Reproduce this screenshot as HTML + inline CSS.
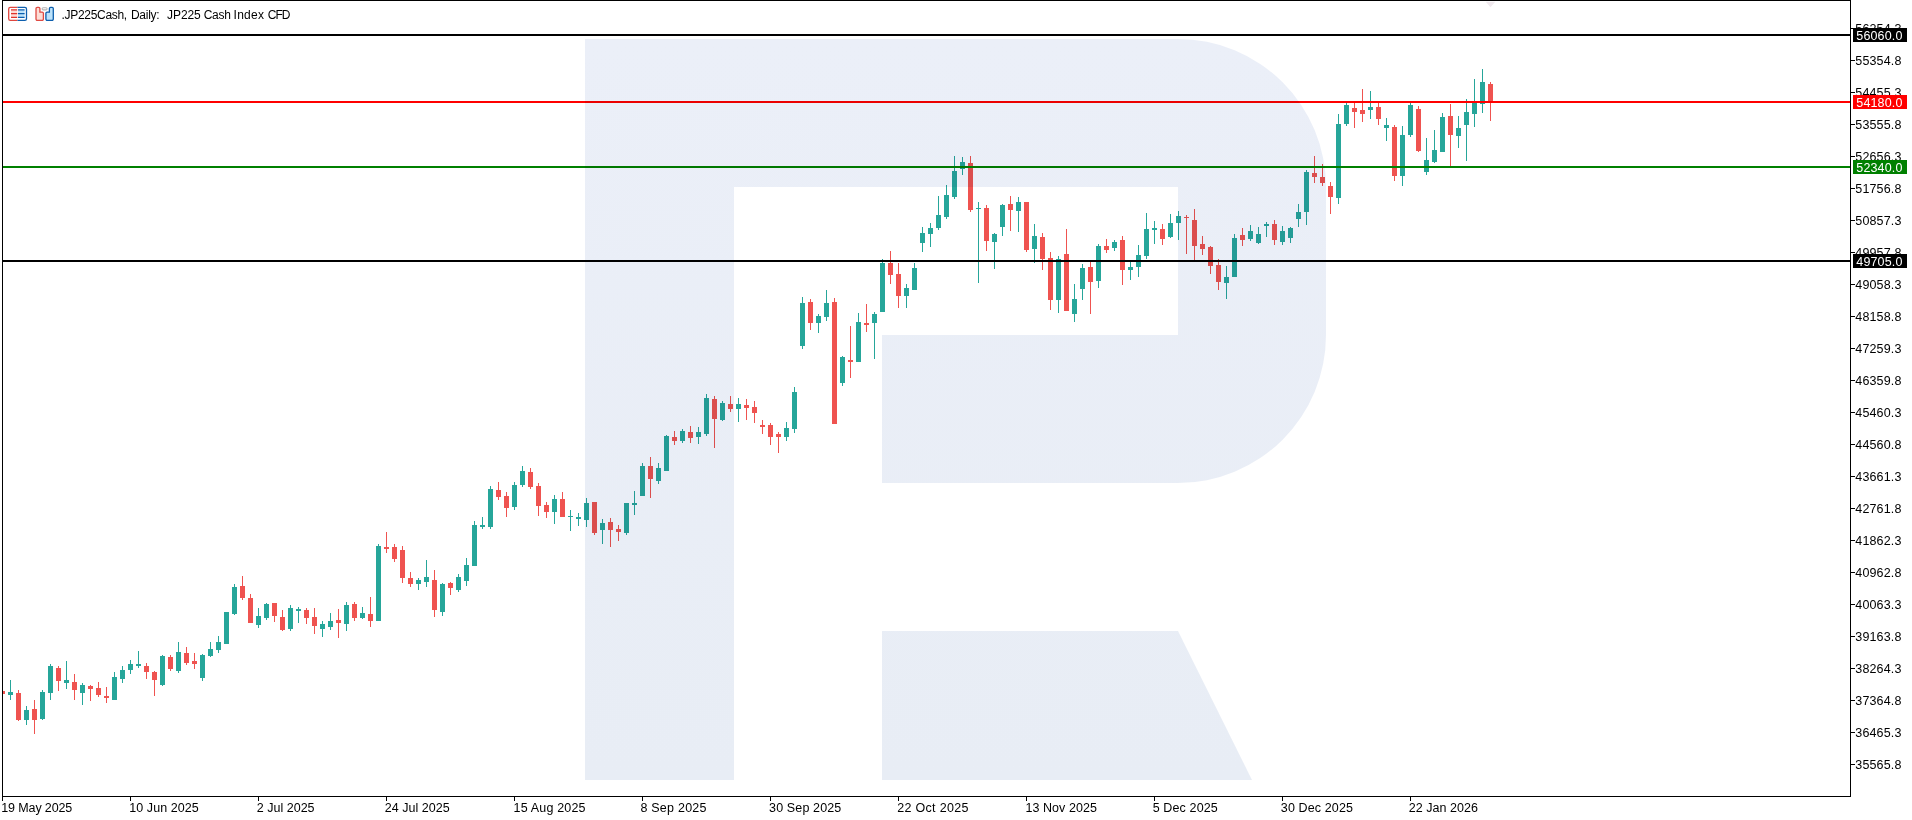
<!DOCTYPE html>
<html lang="en"><head><meta charset="utf-8"><title>.JP225Cash, Daily</title>
<style>
html,body{margin:0;padding:0;background:#fff;overflow:hidden}
body{width:1912px;height:820px;overflow:hidden;position:relative;font-family:"Liberation Sans",sans-serif;}
svg{position:absolute;left:0;top:0;display:block}
.t{position:absolute;white-space:pre;color:#000;font-size:12.5px;line-height:14px;height:14px;}
.pl{left:1855.3px;letter-spacing:0.15px}
.dl{top:801px;font-size:12.5px;letter-spacing:-0.1px}
.box{position:absolute;left:1853px;width:54px;height:14px;color:#fff;font-size:12.5px;line-height:14px;white-space:pre;letter-spacing:0.15px}
.box span{position:absolute;left:3.3px;top:1px}
#wm{mix-blend-mode:multiply}
</style></head><body>
<svg id="chart" width="1912" height="820" viewBox="0 0 1912 820" shape-rendering="crispEdges">
<g id="candles">
<g fill="#ef5350"><rect x="2" y="690" width="1" height="5"/><rect x="0" y="691" width="5" height="3"/></g>
<g fill="#26a69a"><rect x="10" y="680" width="1" height="20"/><rect x="8" y="692" width="5" height="3"/></g>
<g fill="#ef5350"><rect x="18" y="690" width="1" height="31"/><rect x="16" y="693" width="5" height="27"/></g>
<g fill="#26a69a"><rect x="26" y="706" width="1" height="19"/><rect x="24" y="710" width="5" height="10"/></g>
<g fill="#ef5350"><rect x="34" y="700" width="1" height="34"/><rect x="32" y="709" width="5" height="11"/></g>
<g fill="#26a69a"><rect x="42" y="690" width="1" height="30"/><rect x="40" y="692" width="5" height="27"/></g>
<g fill="#26a69a"><rect x="50" y="664" width="1" height="36"/><rect x="48" y="666" width="5" height="27"/></g>
<g fill="#ef5350"><rect x="58" y="666" width="1" height="25"/><rect x="56" y="668" width="5" height="13"/></g>
<g fill="#26a69a"><rect x="66" y="661" width="1" height="28"/><rect x="64" y="680" width="5" height="3"/></g>
<g fill="#ef5350"><rect x="74" y="674" width="1" height="26"/><rect x="72" y="682" width="5" height="8"/></g>
<g fill="#26a69a"><rect x="82" y="683" width="1" height="22"/><rect x="80" y="685" width="5" height="8"/></g>
<g fill="#ef5350"><rect x="90" y="685" width="1" height="16"/><rect x="88" y="686" width="5" height="3"/></g>
<g fill="#ef5350"><rect x="98" y="682" width="1" height="15"/><rect x="96" y="688" width="5" height="7"/></g>
<g fill="#ef5350"><rect x="106" y="687" width="1" height="16"/><rect x="104" y="696" width="5" height="2"/></g>
<g fill="#26a69a"><rect x="114" y="672" width="1" height="28"/><rect x="112" y="677" width="5" height="23"/></g>
<g fill="#26a69a"><rect x="122" y="666" width="1" height="17"/><rect x="120" y="670" width="5" height="9"/></g>
<g fill="#26a69a"><rect x="130" y="660" width="1" height="14"/><rect x="128" y="664" width="5" height="6"/></g>
<g fill="#26a69a"><rect x="138" y="651" width="1" height="17"/><rect x="136" y="664" width="5" height="2"/></g>
<g fill="#ef5350"><rect x="146" y="663" width="1" height="16"/><rect x="144" y="666" width="5" height="6"/></g>
<g fill="#ef5350"><rect x="154" y="671" width="1" height="25"/><rect x="152" y="672" width="5" height="8"/></g>
<g fill="#26a69a"><rect x="162" y="655" width="1" height="31"/><rect x="160" y="656" width="5" height="29"/></g>
<g fill="#ef5350"><rect x="170" y="655" width="1" height="16"/><rect x="168" y="657" width="5" height="12"/></g>
<g fill="#26a69a"><rect x="178" y="642" width="1" height="31"/><rect x="176" y="652" width="5" height="19"/></g>
<g fill="#ef5350"><rect x="186" y="647" width="1" height="18"/><rect x="184" y="653" width="5" height="10"/></g>
<g fill="#ef5350"><rect x="194" y="653" width="1" height="16"/><rect x="192" y="661" width="5" height="3"/></g>
<g fill="#26a69a"><rect x="202" y="654" width="1" height="27"/><rect x="200" y="655" width="5" height="23"/></g>
<g fill="#26a69a"><rect x="210" y="642" width="1" height="15"/><rect x="208" y="649" width="5" height="7"/></g>
<g fill="#26a69a"><rect x="218" y="636" width="1" height="17"/><rect x="216" y="642" width="5" height="8"/></g>
<g fill="#26a69a"><rect x="226" y="612" width="1" height="32"/><rect x="224" y="612" width="5" height="32"/></g>
<g fill="#26a69a"><rect x="234" y="584" width="1" height="31"/><rect x="232" y="587" width="5" height="27"/></g>
<g fill="#ef5350"><rect x="242" y="576" width="1" height="24"/><rect x="240" y="586" width="5" height="12"/></g>
<g fill="#ef5350"><rect x="250" y="594" width="1" height="29"/><rect x="248" y="598" width="5" height="25"/></g>
<g fill="#26a69a"><rect x="258" y="608" width="1" height="20"/><rect x="256" y="616" width="5" height="9"/></g>
<g fill="#26a69a"><rect x="266" y="603" width="1" height="17"/><rect x="264" y="604" width="5" height="14"/></g>
<g fill="#ef5350"><rect x="274" y="603" width="1" height="19"/><rect x="272" y="603" width="5" height="13"/></g>
<g fill="#ef5350"><rect x="282" y="610" width="1" height="21"/><rect x="280" y="617" width="5" height="13"/></g>
<g fill="#26a69a"><rect x="290" y="605" width="1" height="26"/><rect x="288" y="608" width="5" height="21"/></g>
<g fill="#26a69a"><rect x="298" y="607" width="1" height="16"/><rect x="296" y="609" width="5" height="2"/></g>
<g fill="#ef5350"><rect x="306" y="608" width="1" height="16"/><rect x="304" y="610" width="5" height="8"/></g>
<g fill="#ef5350"><rect x="314" y="608" width="1" height="26"/><rect x="312" y="617" width="5" height="9"/></g>
<g fill="#26a69a"><rect x="322" y="621" width="1" height="16"/><rect x="320" y="624" width="5" height="5"/></g>
<g fill="#26a69a"><rect x="330" y="613" width="1" height="17"/><rect x="328" y="621" width="5" height="6"/></g>
<g fill="#ef5350"><rect x="338" y="609" width="1" height="29"/><rect x="336" y="620" width="5" height="3"/></g>
<g fill="#26a69a"><rect x="346" y="602" width="1" height="29"/><rect x="344" y="605" width="5" height="19"/></g>
<g fill="#ef5350"><rect x="354" y="602" width="1" height="19"/><rect x="352" y="604" width="5" height="14"/></g>
<g fill="#26a69a"><rect x="362" y="607" width="1" height="12"/><rect x="360" y="613" width="5" height="5"/></g>
<g fill="#ef5350"><rect x="370" y="597" width="1" height="30"/><rect x="368" y="614" width="5" height="7"/></g>
<g fill="#26a69a"><rect x="378" y="544" width="1" height="77"/><rect x="376" y="546" width="5" height="75"/></g>
<g fill="#ef5350"><rect x="386" y="532" width="1" height="21"/><rect x="384" y="547" width="5" height="2"/></g>
<g fill="#ef5350"><rect x="394" y="544" width="1" height="18"/><rect x="392" y="547" width="5" height="12"/></g>
<g fill="#ef5350"><rect x="402" y="546" width="1" height="37"/><rect x="400" y="550" width="5" height="28"/></g>
<g fill="#ef5350"><rect x="410" y="572" width="1" height="15"/><rect x="408" y="578" width="5" height="6"/></g>
<g fill="#26a69a"><rect x="418" y="578" width="1" height="12"/><rect x="416" y="580" width="5" height="4"/></g>
<g fill="#26a69a"><rect x="426" y="560" width="1" height="27"/><rect x="424" y="577" width="5" height="5"/></g>
<g fill="#ef5350"><rect x="434" y="570" width="1" height="47"/><rect x="432" y="580" width="5" height="30"/></g>
<g fill="#26a69a"><rect x="442" y="583" width="1" height="33"/><rect x="440" y="584" width="5" height="28"/></g>
<g fill="#ef5350"><rect x="450" y="582" width="1" height="13"/><rect x="448" y="583" width="5" height="5"/></g>
<g fill="#26a69a"><rect x="458" y="574" width="1" height="18"/><rect x="456" y="577" width="5" height="13"/></g>
<g fill="#26a69a"><rect x="466" y="558" width="1" height="28"/><rect x="464" y="565" width="5" height="16"/></g>
<g fill="#26a69a"><rect x="474" y="521" width="1" height="45"/><rect x="472" y="525" width="5" height="41"/></g>
<g fill="#26a69a"><rect x="482" y="517" width="1" height="12"/><rect x="480" y="525" width="5" height="2"/></g>
<g fill="#26a69a"><rect x="490" y="486" width="1" height="43"/><rect x="488" y="489" width="5" height="38"/></g>
<g fill="#ef5350"><rect x="498" y="482" width="1" height="18"/><rect x="496" y="490" width="5" height="7"/></g>
<g fill="#ef5350"><rect x="506" y="492" width="1" height="25"/><rect x="504" y="496" width="5" height="12"/></g>
<g fill="#26a69a"><rect x="514" y="482" width="1" height="28"/><rect x="512" y="485" width="5" height="22"/></g>
<g fill="#26a69a"><rect x="522" y="466" width="1" height="21"/><rect x="520" y="471" width="5" height="14"/></g>
<g fill="#ef5350"><rect x="530" y="468" width="1" height="21"/><rect x="528" y="472" width="5" height="15"/></g>
<g fill="#ef5350"><rect x="538" y="483" width="1" height="33"/><rect x="536" y="486" width="5" height="20"/></g>
<g fill="#ef5350"><rect x="546" y="502" width="1" height="16"/><rect x="544" y="505" width="5" height="7"/></g>
<g fill="#26a69a"><rect x="554" y="495" width="1" height="29"/><rect x="552" y="499" width="5" height="13"/></g>
<g fill="#ef5350"><rect x="562" y="492" width="1" height="25"/><rect x="560" y="499" width="5" height="18"/></g>
<g fill="#26a69a"><rect x="570" y="510" width="1" height="21"/><rect x="568" y="516" width="5" height="1"/></g>
<g fill="#26a69a"><rect x="578" y="513" width="1" height="13"/><rect x="576" y="517" width="5" height="2"/></g>
<g fill="#26a69a"><rect x="586" y="498" width="1" height="29"/><rect x="584" y="503" width="5" height="17"/></g>
<g fill="#ef5350"><rect x="594" y="502" width="1" height="33"/><rect x="592" y="502" width="5" height="31"/></g>
<g fill="#26a69a"><rect x="602" y="519" width="1" height="25"/><rect x="600" y="523" width="5" height="7"/></g>
<g fill="#ef5350"><rect x="610" y="518" width="1" height="29"/><rect x="608" y="522" width="5" height="8"/></g>
<g fill="#ef5350"><rect x="618" y="525" width="1" height="16"/><rect x="616" y="529" width="5" height="3"/></g>
<g fill="#26a69a"><rect x="626" y="503" width="1" height="32"/><rect x="624" y="503" width="5" height="30"/></g>
<g fill="#26a69a"><rect x="634" y="491" width="1" height="24"/><rect x="632" y="503" width="5" height="2"/></g>
<g fill="#26a69a"><rect x="642" y="463" width="1" height="33"/><rect x="640" y="466" width="5" height="30"/></g>
<g fill="#ef5350"><rect x="650" y="457" width="1" height="41"/><rect x="648" y="466" width="5" height="13"/></g>
<g fill="#26a69a"><rect x="658" y="463" width="1" height="21"/><rect x="656" y="468" width="5" height="13"/></g>
<g fill="#26a69a"><rect x="666" y="435" width="1" height="36"/><rect x="664" y="436" width="5" height="35"/></g>
<g fill="#ef5350"><rect x="674" y="431" width="1" height="14"/><rect x="672" y="437" width="5" height="4"/></g>
<g fill="#26a69a"><rect x="682" y="429" width="1" height="14"/><rect x="680" y="431" width="5" height="10"/></g>
<g fill="#ef5350"><rect x="690" y="426" width="1" height="17"/><rect x="688" y="432" width="5" height="6"/></g>
<g fill="#26a69a"><rect x="698" y="427" width="1" height="17"/><rect x="696" y="432" width="5" height="5"/></g>
<g fill="#26a69a"><rect x="706" y="394" width="1" height="42"/><rect x="704" y="398" width="5" height="36"/></g>
<g fill="#ef5350"><rect x="714" y="396" width="1" height="52"/><rect x="712" y="399" width="5" height="20"/></g>
<g fill="#26a69a"><rect x="722" y="401" width="1" height="20"/><rect x="720" y="403" width="5" height="17"/></g>
<g fill="#ef5350"><rect x="730" y="396" width="1" height="16"/><rect x="728" y="404" width="5" height="5"/></g>
<g fill="#26a69a"><rect x="738" y="398" width="1" height="24"/><rect x="736" y="404" width="5" height="5"/></g>
<g fill="#ef5350"><rect x="746" y="399" width="1" height="21"/><rect x="744" y="405" width="5" height="3"/></g>
<g fill="#ef5350"><rect x="754" y="401" width="1" height="22"/><rect x="752" y="407" width="5" height="6"/></g>
<g fill="#ef5350"><rect x="762" y="420" width="1" height="14"/><rect x="760" y="425" width="5" height="2"/></g>
<g fill="#ef5350"><rect x="770" y="423" width="1" height="22"/><rect x="768" y="425" width="5" height="12"/></g>
<g fill="#ef5350"><rect x="778" y="432" width="1" height="21"/><rect x="776" y="434" width="5" height="3"/></g>
<g fill="#26a69a"><rect x="786" y="422" width="1" height="19"/><rect x="784" y="428" width="5" height="9"/></g>
<g fill="#26a69a"><rect x="794" y="387" width="1" height="46"/><rect x="792" y="392" width="5" height="37"/></g>
<g fill="#26a69a"><rect x="802" y="297" width="1" height="52"/><rect x="800" y="303" width="5" height="43"/></g>
<g fill="#ef5350"><rect x="810" y="299" width="1" height="31"/><rect x="808" y="302" width="5" height="21"/></g>
<g fill="#26a69a"><rect x="818" y="314" width="1" height="19"/><rect x="816" y="316" width="5" height="7"/></g>
<g fill="#26a69a"><rect x="826" y="290" width="1" height="31"/><rect x="824" y="303" width="5" height="14"/></g>
<g fill="#ef5350"><rect x="834" y="298" width="1" height="126"/><rect x="832" y="302" width="5" height="122"/></g>
<g fill="#26a69a"><rect x="842" y="356" width="1" height="30"/><rect x="840" y="357" width="5" height="26"/></g>
<g fill="#ef5350"><rect x="850" y="326" width="1" height="52"/><rect x="848" y="360" width="5" height="2"/></g>
<g fill="#26a69a"><rect x="858" y="313" width="1" height="49"/><rect x="856" y="322" width="5" height="40"/></g>
<g fill="#ef5350"><rect x="866" y="304" width="1" height="28"/><rect x="864" y="323" width="5" height="2"/></g>
<g fill="#26a69a"><rect x="874" y="312" width="1" height="47"/><rect x="872" y="314" width="5" height="9"/></g>
<g fill="#26a69a"><rect x="882" y="259" width="1" height="53"/><rect x="880" y="263" width="5" height="49"/></g>
<g fill="#ef5350"><rect x="890" y="251" width="1" height="33"/><rect x="888" y="263" width="5" height="12"/></g>
<g fill="#ef5350"><rect x="898" y="263" width="1" height="45"/><rect x="896" y="274" width="5" height="22"/></g>
<g fill="#26a69a"><rect x="906" y="284" width="1" height="24"/><rect x="904" y="288" width="5" height="8"/></g>
<g fill="#26a69a"><rect x="914" y="263" width="1" height="27"/><rect x="912" y="268" width="5" height="22"/></g>
<g fill="#26a69a"><rect x="922" y="227" width="1" height="25"/><rect x="920" y="233" width="5" height="10"/></g>
<g fill="#26a69a"><rect x="930" y="223" width="1" height="24"/><rect x="928" y="228" width="5" height="6"/></g>
<g fill="#26a69a"><rect x="938" y="196" width="1" height="34"/><rect x="936" y="215" width="5" height="13"/></g>
<g fill="#26a69a"><rect x="946" y="185" width="1" height="34"/><rect x="944" y="195" width="5" height="22"/></g>
<g fill="#26a69a"><rect x="954" y="156" width="1" height="43"/><rect x="952" y="171" width="5" height="26"/></g>
<g fill="#26a69a"><rect x="962" y="157" width="1" height="18"/><rect x="960" y="162" width="5" height="7"/></g>
<g fill="#ef5350"><rect x="970" y="156" width="1" height="56"/><rect x="968" y="163" width="5" height="47"/></g>
<g fill="#26a69a"><rect x="978" y="202" width="1" height="81"/><rect x="976" y="208" width="5" height="1"/></g>
<g fill="#ef5350"><rect x="986" y="205" width="1" height="46"/><rect x="984" y="208" width="5" height="33"/></g>
<g fill="#26a69a"><rect x="994" y="233" width="1" height="36"/><rect x="992" y="234" width="5" height="8"/></g>
<g fill="#26a69a"><rect x="1002" y="204" width="1" height="32"/><rect x="1000" y="205" width="5" height="22"/></g>
<g fill="#ef5350"><rect x="1010" y="196" width="1" height="35"/><rect x="1008" y="204" width="5" height="6"/></g>
<g fill="#26a69a"><rect x="1018" y="197" width="1" height="35"/><rect x="1016" y="202" width="5" height="9"/></g>
<g fill="#ef5350"><rect x="1026" y="202" width="1" height="50"/><rect x="1024" y="202" width="5" height="48"/></g>
<g fill="#26a69a"><rect x="1034" y="224" width="1" height="39"/><rect x="1032" y="236" width="5" height="13"/></g>
<g fill="#ef5350"><rect x="1042" y="233" width="1" height="37"/><rect x="1040" y="237" width="5" height="22"/></g>
<g fill="#ef5350"><rect x="1050" y="252" width="1" height="58"/><rect x="1048" y="258" width="5" height="42"/></g>
<g fill="#26a69a"><rect x="1058" y="256" width="1" height="57"/><rect x="1056" y="259" width="5" height="41"/></g>
<g fill="#ef5350"><rect x="1066" y="229" width="1" height="82"/><rect x="1064" y="254" width="5" height="57"/></g>
<g fill="#26a69a"><rect x="1074" y="284" width="1" height="38"/><rect x="1072" y="299" width="5" height="15"/></g>
<g fill="#26a69a"><rect x="1082" y="264" width="1" height="36"/><rect x="1080" y="268" width="5" height="21"/></g>
<g fill="#ef5350"><rect x="1090" y="262" width="1" height="52"/><rect x="1088" y="267" width="5" height="15"/></g>
<g fill="#26a69a"><rect x="1098" y="244" width="1" height="44"/><rect x="1096" y="246" width="5" height="35"/></g>
<g fill="#ef5350"><rect x="1106" y="239" width="1" height="14"/><rect x="1104" y="246" width="5" height="4"/></g>
<g fill="#26a69a"><rect x="1114" y="240" width="1" height="11"/><rect x="1112" y="242" width="5" height="6"/></g>
<g fill="#ef5350"><rect x="1122" y="236" width="1" height="49"/><rect x="1120" y="240" width="5" height="30"/></g>
<g fill="#26a69a"><rect x="1130" y="262" width="1" height="18"/><rect x="1128" y="267" width="5" height="3"/></g>
<g fill="#26a69a"><rect x="1138" y="245" width="1" height="32"/><rect x="1136" y="255" width="5" height="12"/></g>
<g fill="#26a69a"><rect x="1146" y="213" width="1" height="46"/><rect x="1144" y="229" width="5" height="27"/></g>
<g fill="#26a69a"><rect x="1154" y="221" width="1" height="23"/><rect x="1152" y="228" width="5" height="2"/></g>
<g fill="#ef5350"><rect x="1162" y="224" width="1" height="21"/><rect x="1160" y="229" width="5" height="10"/></g>
<g fill="#26a69a"><rect x="1170" y="214" width="1" height="24"/><rect x="1168" y="223" width="5" height="14"/></g>
<g fill="#26a69a"><rect x="1178" y="211" width="1" height="29"/><rect x="1176" y="216" width="5" height="7"/></g>
<g fill="#ef5350"><rect x="1186" y="215" width="1" height="39"/><rect x="1184" y="217" width="5" height="1"/></g>
<g fill="#ef5350"><rect x="1194" y="209" width="1" height="51"/><rect x="1192" y="220" width="5" height="26"/></g>
<g fill="#ef5350"><rect x="1202" y="236" width="1" height="19"/><rect x="1200" y="244" width="5" height="5"/></g>
<g fill="#ef5350"><rect x="1210" y="246" width="1" height="28"/><rect x="1208" y="247" width="5" height="19"/></g>
<g fill="#ef5350"><rect x="1218" y="259" width="1" height="31"/><rect x="1216" y="265" width="5" height="17"/></g>
<g fill="#26a69a"><rect x="1226" y="266" width="1" height="33"/><rect x="1224" y="277" width="5" height="6"/></g>
<g fill="#26a69a"><rect x="1234" y="234" width="1" height="43"/><rect x="1232" y="238" width="5" height="39"/></g>
<g fill="#ef5350"><rect x="1242" y="228" width="1" height="18"/><rect x="1240" y="235" width="5" height="5"/></g>
<g fill="#26a69a"><rect x="1250" y="225" width="1" height="16"/><rect x="1248" y="231" width="5" height="8"/></g>
<g fill="#26a69a"><rect x="1258" y="227" width="1" height="17"/><rect x="1256" y="234" width="5" height="9"/></g>
<g fill="#26a69a"><rect x="1266" y="222" width="1" height="15"/><rect x="1264" y="224" width="5" height="2"/></g>
<g fill="#ef5350"><rect x="1274" y="220" width="1" height="25"/><rect x="1272" y="224" width="5" height="16"/></g>
<g fill="#26a69a"><rect x="1282" y="226" width="1" height="19"/><rect x="1280" y="231" width="5" height="11"/></g>
<g fill="#26a69a"><rect x="1290" y="227" width="1" height="16"/><rect x="1288" y="228" width="5" height="10"/></g>
<g fill="#26a69a"><rect x="1298" y="204" width="1" height="23"/><rect x="1296" y="212" width="5" height="7"/></g>
<g fill="#26a69a"><rect x="1306" y="170" width="1" height="55"/><rect x="1304" y="172" width="5" height="40"/></g>
<g fill="#ef5350"><rect x="1314" y="156" width="1" height="27"/><rect x="1312" y="173" width="5" height="4"/></g>
<g fill="#ef5350"><rect x="1322" y="164" width="1" height="22"/><rect x="1320" y="177" width="5" height="6"/></g>
<g fill="#ef5350"><rect x="1330" y="182" width="1" height="32"/><rect x="1328" y="186" width="5" height="11"/></g>
<g fill="#26a69a"><rect x="1338" y="114" width="1" height="90"/><rect x="1336" y="124" width="5" height="74"/></g>
<g fill="#26a69a"><rect x="1346" y="103" width="1" height="23"/><rect x="1344" y="105" width="5" height="19"/></g>
<g fill="#ef5350"><rect x="1354" y="103" width="1" height="25"/><rect x="1352" y="108" width="5" height="4"/></g>
<g fill="#ef5350"><rect x="1362" y="89" width="1" height="33"/><rect x="1360" y="110" width="5" height="4"/></g>
<g fill="#26a69a"><rect x="1370" y="91" width="1" height="28"/><rect x="1368" y="107" width="5" height="3"/></g>
<g fill="#ef5350"><rect x="1378" y="103" width="1" height="22"/><rect x="1376" y="107" width="5" height="12"/></g>
<g fill="#26a69a"><rect x="1386" y="118" width="1" height="23"/><rect x="1384" y="125" width="5" height="3"/></g>
<g fill="#ef5350"><rect x="1394" y="125" width="1" height="56"/><rect x="1392" y="127" width="5" height="49"/></g>
<g fill="#26a69a"><rect x="1402" y="126" width="1" height="60"/><rect x="1400" y="135" width="5" height="41"/></g>
<g fill="#26a69a"><rect x="1410" y="103" width="1" height="34"/><rect x="1408" y="105" width="5" height="30"/></g>
<g fill="#ef5350"><rect x="1418" y="106" width="1" height="46"/><rect x="1416" y="109" width="5" height="42"/></g>
<g fill="#26a69a"><rect x="1426" y="138" width="1" height="37"/><rect x="1424" y="160" width="5" height="12"/></g>
<g fill="#26a69a"><rect x="1434" y="130" width="1" height="33"/><rect x="1432" y="150" width="5" height="12"/></g>
<g fill="#26a69a"><rect x="1442" y="113" width="1" height="39"/><rect x="1440" y="117" width="5" height="35"/></g>
<g fill="#ef5350"><rect x="1450" y="104" width="1" height="62"/><rect x="1448" y="116" width="5" height="19"/></g>
<g fill="#26a69a"><rect x="1458" y="116" width="1" height="32"/><rect x="1456" y="128" width="5" height="8"/></g>
<g fill="#26a69a"><rect x="1466" y="99" width="1" height="62"/><rect x="1464" y="112" width="5" height="13"/></g>
<g fill="#26a69a"><rect x="1474" y="79" width="1" height="48"/><rect x="1472" y="102" width="5" height="12"/></g>
<g fill="#26a69a"><rect x="1482" y="69" width="1" height="44"/><rect x="1480" y="82" width="5" height="22"/></g>
<g fill="#ef5350"><rect x="1490" y="82" width="1" height="39"/><rect x="1488" y="84" width="5" height="17"/></g>
</g>
<rect x="0" y="0" width="2" height="820" fill="#fff"/>
<rect x="3" y="34" width="1847" height="2" fill="#000"/>
<rect x="3" y="101" width="1847" height="2" fill="#f00"/>
<rect x="3" y="166" width="1847" height="2" fill="#008000"/>
<rect x="3" y="260" width="1847" height="2" fill="#000"/>
</svg>
<svg id="wm" width="1912" height="820" viewBox="0 0 1912 820">
<defs><linearGradient id="wg" gradientUnits="userSpaceOnUse" x1="0" y1="39" x2="0" y2="780"><stop offset="0" stop-color="#ebeff8"/><stop offset="1" stop-color="#e8edf5"/></linearGradient></defs>
<path fill="url(#wg)" d="M585 39H1178A148 148 0 0 1 1326 187V335A148 148 0 0 1 1178 483H882V335H1178V187H734V780H585Z"/>
<path fill="url(#wg)" d="M882 631H1178L1252 780H882Z"/>
</svg>
<svg id="frame" width="1912" height="820" viewBox="0 0 1912 820" shape-rendering="crispEdges">
<polygon points="1485.700,1.800 1495.300,1.800 1490.500,7.200" fill="#f0e9ee" shape-rendering="auto"/>
<rect x="2" y="0" width="1849" height="1" fill="#000"/>
<rect x="2" y="0" width="1" height="797" fill="#000"/>
<rect x="2" y="796" width="1849" height="1" fill="#000"/>
<rect x="1850" y="0" width="1" height="797" fill="#000"/>
<rect x="1851" y="28" width="4" height="1" fill="#000"/>
<rect x="1851" y="60" width="4" height="1" fill="#000"/>
<rect x="1851" y="92" width="4" height="1" fill="#000"/>
<rect x="1851" y="124" width="4" height="1" fill="#000"/>
<rect x="1851" y="156" width="4" height="1" fill="#000"/>
<rect x="1851" y="188" width="4" height="1" fill="#000"/>
<rect x="1851" y="220" width="4" height="1" fill="#000"/>
<rect x="1851" y="252" width="4" height="1" fill="#000"/>
<rect x="1851" y="284" width="4" height="1" fill="#000"/>
<rect x="1851" y="316" width="4" height="1" fill="#000"/>
<rect x="1851" y="348" width="4" height="1" fill="#000"/>
<rect x="1851" y="380" width="4" height="1" fill="#000"/>
<rect x="1851" y="412" width="4" height="1" fill="#000"/>
<rect x="1851" y="444" width="4" height="1" fill="#000"/>
<rect x="1851" y="476" width="4" height="1" fill="#000"/>
<rect x="1851" y="508" width="4" height="1" fill="#000"/>
<rect x="1851" y="540" width="4" height="1" fill="#000"/>
<rect x="1851" y="572" width="4" height="1" fill="#000"/>
<rect x="1851" y="604" width="4" height="1" fill="#000"/>
<rect x="1851" y="636" width="4" height="1" fill="#000"/>
<rect x="1851" y="668" width="4" height="1" fill="#000"/>
<rect x="1851" y="700" width="4" height="1" fill="#000"/>
<rect x="1851" y="732" width="4" height="1" fill="#000"/>
<rect x="1851" y="764" width="4" height="1" fill="#000"/>
<rect x="2" y="797" width="1" height="4" fill="#000"/>
<rect x="130" y="797" width="1" height="4" fill="#000"/>
<rect x="258" y="797" width="1" height="4" fill="#000"/>
<rect x="386" y="797" width="1" height="4" fill="#000"/>
<rect x="514" y="797" width="1" height="4" fill="#000"/>
<rect x="642" y="797" width="1" height="4" fill="#000"/>
<rect x="770" y="797" width="1" height="4" fill="#000"/>
<rect x="898" y="797" width="1" height="4" fill="#000"/>
<rect x="1026" y="797" width="1" height="4" fill="#000"/>
<rect x="1154" y="797" width="1" height="4" fill="#000"/>
<rect x="1282" y="797" width="1" height="4" fill="#000"/>
<rect x="1410" y="797" width="1" height="4" fill="#000"/>
</svg>
<svg id="icons" width="60" height="26" viewBox="0 0 60 26" style="left:0;top:0">
<path d="M17.500 7.400H10.300a1.600 1.600 0 0 0 -1.600 1.600V18.800a1.600 1.600 0 0 0 1.600 1.600H17.500" fill="none" stroke="#e0463e" stroke-width="1.300"/>
<path d="M17.500 7.400H24.900a1.600 1.600 0 0 1 1.600 1.600V18.800a1.600 1.600 0 0 1 -1.600 1.600H17.500" fill="none" stroke="#0e5fae" stroke-width="1.300"/>
<rect x="11" y="9.500" width="6.200" height="8.300" fill="#fddcd6"/>
<rect x="18" y="9.500" width="6.600" height="8.300" fill="#bee3fa"/>
<g stroke="#e0332b" stroke-width="1.150"><path d="M11 9.900H17.200M11 13.650H17.200M11 17.400H17.200"/></g>
<g stroke="#0e5fae" stroke-width="1.150"><path d="M18 9.900H24.600M18 13.650H24.600M18 17.400H24.600"/></g>
<path d="M36 8.600a1.200 1.200 0 0 1 1.200-1.200h1.500a1.200 1.200 0 0 1 1.200 1.200v3.500h2.300a1.200 1.200 0 0 1 1.200 1.200v5.800a1.200 1.200 0 0 1 -1.200 1.200h-5a1.200 1.200 0 0 1 -1.200-1.200z" fill="#fdddd6" stroke="#df4a42" stroke-width="1.300"/>
<path d="M53.300 8.600a1.200 1.200 0 0 0 -1.200-1.200h-1.500a1.200 1.200 0 0 0 -1.200 1.200v3.500h-2.300a1.200 1.200 0 0 0 -1.200 1.200v5.800a1.200 1.200 0 0 0 1.200 1.200h5a1.200 1.200 0 0 0 1.200-1.200z" fill="#bde3fb" stroke="#0d5fad" stroke-width="1.300"/>
<rect x="42.100" y="7.700" width="5" height="2.200" rx="1.100" fill="#fff" stroke="#b4b4b4" stroke-width="1.100"/>
</svg>
<div id="title"><span class="t tw" style="left:61.50px;top:8px;font-size:12px;letter-spacing:-0.3px">.JP225Cash,</span> <span class="t tw" style="left:130.90px;top:8px;font-size:12px;letter-spacing:-0.24px">Daily:</span> <span class="t tw" style="left:167.10px;top:8px;font-size:12px;letter-spacing:-0.1px">JP225</span> <span class="t tw" style="left:203.70px;top:8px;font-size:12px;letter-spacing:-0.3px">Cash</span> <span class="t tw" style="left:233.50px;top:8px;font-size:12px;letter-spacing:0.3px">Index</span> <span class="t tw" style="left:267.80px;top:8px;font-size:12px;letter-spacing:-1.0px">CFD</span></div>
<div class="t pl" style="top:22px">56254.3</div>
<div class="t pl" style="top:54px">55354.8</div>
<div class="t pl" style="top:86px">54455.3</div>
<div class="t pl" style="top:118px">53555.8</div>
<div class="t pl" style="top:150px">52656.3</div>
<div class="t pl" style="top:182px">51756.8</div>
<div class="t pl" style="top:214px">50857.3</div>
<div class="t pl" style="top:246px">49957.8</div>
<div class="t pl" style="top:278px">49058.3</div>
<div class="t pl" style="top:310px">48158.8</div>
<div class="t pl" style="top:342px">47259.3</div>
<div class="t pl" style="top:374px">46359.8</div>
<div class="t pl" style="top:406px">45460.3</div>
<div class="t pl" style="top:438px">44560.8</div>
<div class="t pl" style="top:470px">43661.3</div>
<div class="t pl" style="top:502px">42761.8</div>
<div class="t pl" style="top:534px">41862.3</div>
<div class="t pl" style="top:566px">40962.8</div>
<div class="t pl" style="top:598px">40063.3</div>
<div class="t pl" style="top:630px">39163.8</div>
<div class="t pl" style="top:662px">38264.3</div>
<div class="t pl" style="top:694px">37364.8</div>
<div class="t pl" style="top:726px">36465.3</div>
<div class="t pl" style="top:758px">35565.8</div>
<div class="box" style="top:28px;background:#000"><span>56060.0</span></div>
<div class="box" style="top:95px;background:#f00"><span>54180.0</span></div>
<div class="box" style="top:160px;background:#008000"><span>52340.0</span></div>
<div class="box" style="top:254px;background:#000"><span>49705.0</span></div>
<div class="t dl" style="left:1.3px;letter-spacing:-0.13px">19 May 2025</div>
<div class="t dl" style="left:129.2px;letter-spacing:0.08px">10 Jun 2025</div>
<div class="t dl" style="left:256.7px;letter-spacing:0.02px">2 Jul 2025</div>
<div class="t dl" style="left:384.7px;letter-spacing:0.04px">24 Jul 2025</div>
<div class="t dl" style="left:513.6px;letter-spacing:0.17px">15 Aug 2025</div>
<div class="t dl" style="left:640.4px;letter-spacing:0.24px">8 Sep 2025</div>
<div class="t dl" style="left:769.1px;letter-spacing:0.13px">30 Sep 2025</div>
<div class="t dl" style="left:897.2px;letter-spacing:0.31px">22 Oct 2025</div>
<div class="t dl" style="left:1025.5px;letter-spacing:0.05px">13 Nov 2025</div>
<div class="t dl" style="left:1152.7px;letter-spacing:0.13px">5 Dec 2025</div>
<div class="t dl" style="left:1280.8px;letter-spacing:0.13px">30 Dec 2025</div>
<div class="t dl" style="left:1408.8px;letter-spacing:0.03px">22 Jan 2026</div>
</body></html>
